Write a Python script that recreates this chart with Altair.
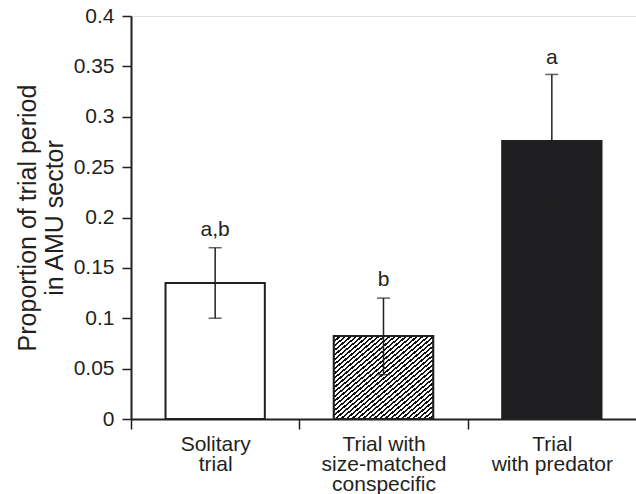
import altair as alt
import pandas as pd

categories = ["Solitary|trial", "Trial with|size-matched|conspecific", "Trial|with predator"]
means = [0.135, 0.0825, 0.276]
err_low = [0.100, 0.044, 0.210]
err_high = [0.170, 0.120, 0.342]
letters = ["a,b", "b", "a"]
letter_y = [0.188, 0.138, 0.358]
y_ticks = [0, 0.05, 0.1, 0.15, 0.2, 0.25, 0.3, 0.35, 0.4]

df = pd.DataFrame({
    "cat": categories,
    "mean": means,
    "lo": err_low,
    "hi": err_high,
    "letter": letters,
    "ly": letter_y,
})

FONT = "Liberation Sans"
INK = "#231f20"
W, H = 505, 403
STEP = W / 3

# diagonal hatch emulated with a hard-stop linear gradient
N = 36
stops = []
for i in range(N):
    a = i / N
    b = (i + 0.45) / N
    c = (i + 1) / N
    stops += [
        {"offset": a, "color": "#111111"},
        {"offset": b, "color": "#111111"},
        {"offset": b, "color": "#ffffff"},
        {"offset": c, "color": "#ffffff"},
    ]
hatch = {"gradient": "linear", "x1": 0, "y1": 0, "x2": 1, "y2": 1, "stops": stops}

x_enc = alt.X(
    "cat:N",
    sort=categories,
    scale=alt.Scale(paddingInner=0, paddingOuter=0),
    axis=alt.Axis(
        title=None,
        labelExpr="split(datum.label, '|')",
        labelAngle=0,
        labelFont=FONT,
        labelFontSize=21,
        labelColor=INK,
        labelLineHeight=20,
        labelPadding=4,
        labelBaseline="top",
        tickOffset=-STEP / 2,
        labelOffset=STEP / 2,
        tickSize=10,
        tickWidth=1.5,
        tickColor=INK,
        domainWidth=2,
        domainColor=INK,
    ),
)

y_scale = alt.Scale(domain=[0, 0.4], nice=False, zero=True)
y_axis = alt.Axis(
    values=y_ticks,
    format="~g",
    title=["Proportion of trial period", "in AMU sector"],
    titleFont=FONT,
    titleFontSize=25,
    titleFontWeight="normal",
    titleColor=INK,
    titlePadding=6,
    titleLineHeight=27,
    labelFont=FONT,
    labelFontSize=21,
    labelColor=INK,
    labelPadding=8,
    tickSize=9,
    tickWidth=1.5,
    tickColor=INK,
    domainWidth=2,
    domainColor=INK,
    grid=False,
)

base = alt.Chart(df)

bars = base.mark_bar(width={"band": 0.59}, stroke=INK, strokeWidth=2).encode(
    x=x_enc,
    y=alt.Y("mean:Q", scale=y_scale, axis=y_axis),
    fill=alt.Fill("cat:N", scale=alt.Scale(domain=categories, range=["#ffffff", "#ffffff", "#1e1e21"]), legend=None),
)

hatched = base.transform_filter(alt.datum.cat == categories[1]).mark_bar(
    width={"band": 0.59}, stroke=INK, strokeWidth=2, fill=hatch
).encode(x=alt.X("cat:N", sort=categories), y=alt.Y("mean:Q"))

rule = base.mark_rule(color=INK, strokeWidth=1.5).encode(
    x=alt.X("cat:N", sort=categories), y="lo:Q", y2="hi:Q"
)
cap_hi = base.mark_tick(color=INK, thickness=1.5, size=13, orient="horizontal").encode(
    x=alt.X("cat:N", sort=categories), y="hi:Q"
)
cap_lo = base.mark_tick(color=INK, thickness=1.5, size=13, orient="horizontal").encode(
    x=alt.X("cat:N", sort=categories), y="lo:Q"
)
txt = base.mark_text(font=FONT, fontSize=21, color=INK, baseline="middle").encode(
    x=alt.X("cat:N", sort=categories), y="ly:Q", text="letter:N"
)

chart = alt.layer(bars, hatched, rule, cap_hi, cap_lo, txt).properties(
    width=W,
    height=H,
    autosize=alt.AutoSizeParams(type="none"),
    padding={"left": 131, "top": 16, "right": 0, "bottom": 75},
).configure_view(stroke=None).configure(background="white")

chart.save("out.html", embed_options={"renderer": "svg", "actions": False})
